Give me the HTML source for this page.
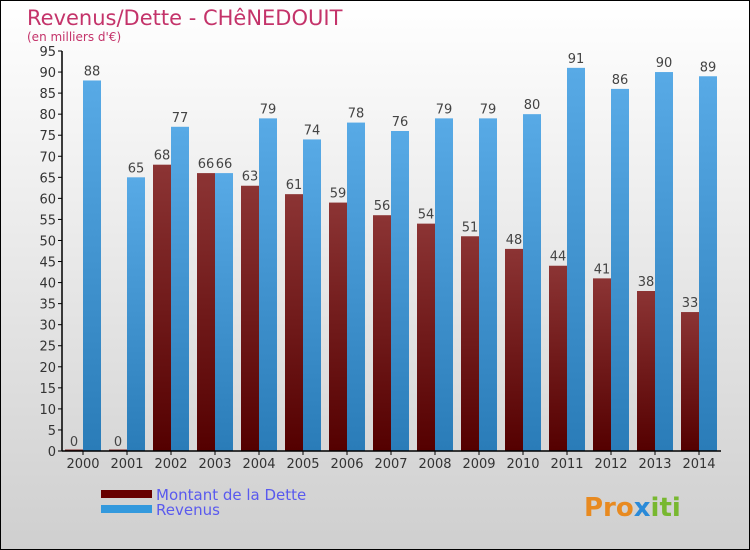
<!DOCTYPE html>
<html><head><meta charset="utf-8"><style>
body{margin:0;}
#c{width:748px;height:548px;border:1px solid #000;background:linear-gradient(#fff,#cfcfcf);position:relative;font-family:"DejaVu Sans","Liberation Sans",sans-serif;overflow:hidden}
svg{position:absolute;left:0;top:0}
</style></head><body>
<div id="c">
<svg id="s" width="748" height="548">
<defs>
<linearGradient id="gd" x1="0" y1="0" x2="0" y2="1"><stop offset="0" stop-color="#8c3434"/><stop offset="1" stop-color="#540000"/></linearGradient>
<linearGradient id="gr" x1="0" y1="0" x2="0" y2="1"><stop offset="0" stop-color="#58aae6"/><stop offset="1" stop-color="#2a7cb8"/></linearGradient>
</defs>
<text x="26" y="24" font-size="21" fill="#c4336a">Revenus/Dette - CHêNEDOUIT</text>
<text x="26" y="40" font-size="12" fill="#c4336a">(en milliers d'€)</text>
<g id="plot"></g>
<rect x="100" y="489" width="51" height="8" fill="#680000"/>
<rect x="100" y="504" width="51" height="8" fill="#3399dd"/>
<text x="155" y="499" font-size="15" fill="#5a5aee">Montant de la Dette</text>
<text x="155" y="514" font-size="15" fill="#5a5aee">Revenus</text>
<text x="583" y="515" font-size="26" font-weight="bold" fill="#e88a20">Pro<tspan fill="#2a8ad8">x</tspan><tspan fill="#78b830">iti</tspan></text>
</svg></div>
<script>
const years=["2000","2001","2002","2003","2004","2005","2006","2007","2008","2009","2010","2011","2012","2013","2014"];
const dette=[0,0,68,66,63,61,59,56,54,51,48,44,41,38,33];
const revenus=[88,65,77,66,79,74,78,76,79,79,80,91,86,90,89];
const yTicks=[0,5,10,15,20,25,30,35,40,45,50,55,60,65,70,75,80,85,90,95];
const NS="http://www.w3.org/2000/svg";
const g=document.getElementById('plot');
const y0=450,ppu=400/95,x0=82,step=44,bw=18;
const Y=v=>y0-v*ppu, X=i=>x0+i*step;
function el(t,a,txt){const e=document.createElementNS(NS,t);for(const k in a)e.setAttribute(k,a[k]);if(txt!==undefined)e.textContent=txt;g.appendChild(e);return e;}
yTicks.forEach(v=>{
 const t=el('line',{x1:57,x2:61,y1:Y(v),y2:Y(v),stroke:'#000'});
 
 
 const l=el('text',{x:55,y:Y(v)+5,'font-size':13,'text-anchor':'end',fill:'#333'},v);
 
 
});
years.forEach((yr,i)=>{
 const c=X(i);
 const hd=Math.max(dette[i]*ppu,1.5);
 const d=el('rect',{x:c-bw,y:y0-hd,width:bw,height:hd,fill:'url(#gd)'});
 
 
 const r=el('rect',{x:c,y:Y(revenus[i]),width:bw,height:revenus[i]*ppu,fill:'url(#gr)'});
 
 
 const ld=el('text',{x:c-bw/2,y:Y(dette[i])-5,'font-size':13,'text-anchor':'middle',fill:'#444'},dette[i]);
 
 
 const lr=el('text',{x:c+bw/2,y:Y(revenus[i])-5,'font-size':13,'text-anchor':'middle',fill:'#444'},revenus[i]);
 
 
 const tk=el('line',{x1:c,x2:c,y1:y0,y2:y0+4,stroke:'#000'});
 
 
 const xl=el('text',{x:c,y:y0+17,'font-size':13,'text-anchor':'middle',fill:'#333'},yr);
 
 
});
const ya=el('line',{x1:61,x2:61,y1:Y(95),y2:y0,stroke:'#000','stroke-width':1.5});


const xa=el('line',{x1:61,x2:720,y1:y0,y2:y0,stroke:'#000','stroke-width':1.5});


</script>
</body></html>
